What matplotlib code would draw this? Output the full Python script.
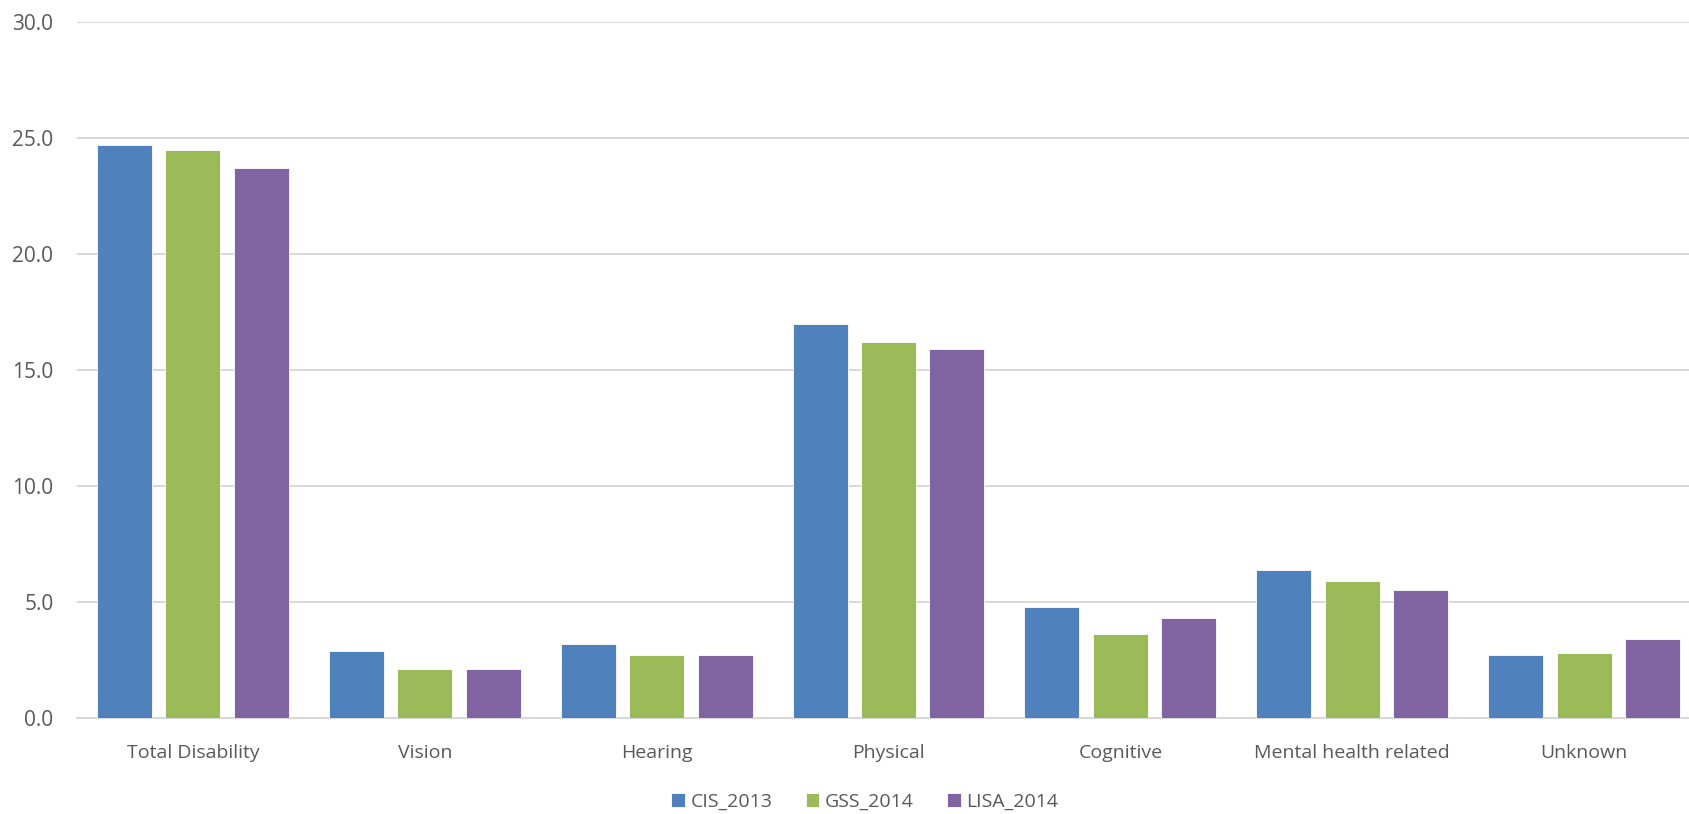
import numpy as np
import matplotlib
matplotlib.use("Agg")
import matplotlib.pyplot as plt

# chart data
categories = ["Total Disability", "Vision", "Hearing", "Physical", "Cognitive",
              "Mental health related", "Unknown"]
series_names = ["CIS_2013", "GSS_2014", "LISA_2014"]
cis_2013 = [24.7, 2.9, 3.2, 17.0, 4.8, 6.4, 2.7]
gss_2014 = [24.5, 2.1, 2.7, 16.2, 3.6, 5.9, 2.8]
lisa_2014 = [23.7, 2.1, 2.7, 15.9, 4.3, 5.5, 3.4]
y_ticks = [0, 5, 10, 15, 20, 25, 30]

COLORS = ["#4F81BD", "#9BBB59", "#8064A2"]
TEXT_COLOR = "#595959"

plt.rcParams['font.family'] = ['Open Sans', 'DejaVu Sans']

fig = plt.figure(figsize=(16.9, 8.14), dpi=100)
# plot area runs a little past the right edge, as in the source image
ax = fig.add_axes([77 / 1690, 1 - 718 / 814, 1623 / 1690, (718 - 22) / 814])

x = np.arange(len(categories))
width = 0.237
step = 0.295
for i, (name, vals) in enumerate(zip(series_names, [cis_2013, gss_2014, lisa_2014])):
    ax.bar(x + (i - 1) * step, vals, width, color=COLORS[i], label=name,
           edgecolor="white", linewidth=0.6, zorder=3)

ax.set_xlim(-0.5, len(categories) - 0.5)
ax.set_ylim(0, 30)
ax.set_yticks(y_ticks)
ax.set_yticklabels([f"{v:.1f}" for v in y_ticks])
ax.set_xticks(x)
ax.set_xticklabels(categories)

ax.grid(axis="y", color="#D9D9D9", linewidth=1.5, zorder=0)
ax.set_axisbelow(True)
for s in ["top", "right", "left"]:
    ax.spines[s].set_visible(False)
ax.spines["bottom"].set_color("#D9D9D9")
ax.spines["bottom"].set_linewidth(1.5)

ax.tick_params(axis="x", length=0, labelsize=14, colors=TEXT_COLOR, pad=19)
ax.tick_params(axis="y", length=0, labelsize=15, colors=TEXT_COLOR, pad=17)

fig.legend(loc="center", bbox_to_anchor=(865 / 1690, 1 - 802 / 814), ncol=3,
           frameon=False, fontsize=14, handlelength=0.7, handleheight=0.7,
           handletextpad=0.3, columnspacing=1.7, labelcolor=TEXT_COLOR)

fig.savefig("out.png", dpi=100)
